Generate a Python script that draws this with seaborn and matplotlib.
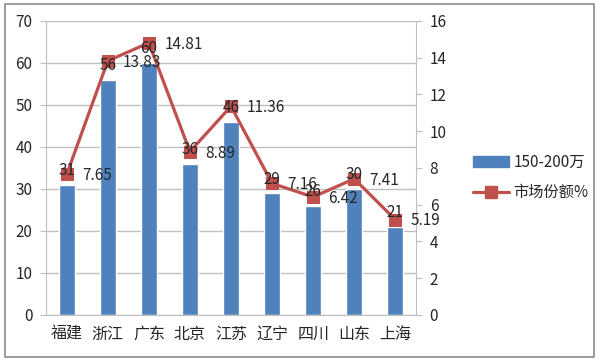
import seaborn as sns
import matplotlib.pyplot as plt
import pandas as pd
from matplotlib.patches import Rectangle
from matplotlib.lines import Line2D
from matplotlib.patches import Patch

regions = ["福建", "浙江", "广东", "北京", "江苏", "辽宁", "四川", "山东", "上海"]
counts = [31, 56, 60, 36, 46, 29, 26, 30, 21]
share = [7.65, 13.83, 14.81, 8.89, 11.36, 7.16, 6.42, 7.41, 5.19]
left_ticks = [0, 10, 20, 30, 40, 50, 60, 70]
right_ticks = [0, 2, 4, 6, 8, 10, 12, 14, 16]

sns.set_style("white")
plt.rcParams['font.family'] = ['Noto Sans CJK SC', 'DejaVu Sans']

BLUE = "#4F81BD"
RED = "#C0504D"
GRID = "#BFBFBF"
TXT = "#262626"

df = pd.DataFrame({"region": regions, "count": counts, "share": share})

fig = plt.figure(figsize=(6, 3.62), dpi=100)
ax = fig.add_axes([0.077, 0.130, 0.616, 0.812])

sns.barplot(data=df, x="region", y="count", color=BLUE, width=0.4,
            saturation=1, ax=ax, zorder=2)
ax.set_ylim(0, 70)
ax.set_yticks(left_ticks)
ax.set_xlim(-0.5, len(regions) - 0.5)
ax.set_xlabel("")
ax.set_ylabel("")
ax.yaxis.grid(True, color=GRID, linewidth=1)
ax.set_axisbelow(True)
for s in ["top", "right"]:
    ax.spines[s].set_visible(False)
for s in ["left", "bottom"]:
    ax.spines[s].set_color(GRID)
ax.tick_params(axis="y", length=4, color=GRID, labelsize=11, labelcolor=TXT, pad=6)
ax.tick_params(axis="x", length=0, labelsize=11.5, labelcolor=TXT, pad=8)
# tick marks between categories
ax.set_xticks([i + 0.5 for i in range(len(regions) - 1)], minor=True)
ax.tick_params(axis="x", which="minor", length=4, color=GRID, direction="out")

ax2 = ax.twinx()
ax2.set_position(ax.get_position())
sns.lineplot(x=list(range(len(regions))), y=share, ax=ax2, color=RED,
             linewidth=2.3, marker="s", markersize=8, markeredgecolor=RED,
             markerfacecolor=RED, zorder=4)
ax2.set_ylim(0, 16)
ax2.set_yticks(right_ticks)
ax2.set_ylabel("")
for s in ["top", "left", "bottom"]:
    ax2.spines[s].set_visible(False)
ax2.spines["right"].set_color(GRID)
ax2.tick_params(axis="y", length=4, color=GRID, labelsize=11, labelcolor=TXT, pad=6)

# bar value labels drawn on the twin axes so they sit above the line markers
for i, v in enumerate(counts):
    ax2.annotate(str(v), (i, v), xycoords=ax.transData, xytext=(0, 4),
                 textcoords="offset points", ha="center", va="bottom",
                 fontsize=11, color=TXT, zorder=6)

for i, v in enumerate(share):
    ax2.annotate(f"{v:.2f}", (i, v), xytext=(11, -1), textcoords="offset points",
                 ha="left", va="center", fontsize=11, color=TXT, zorder=6)

handles = [Patch(facecolor=BLUE, edgecolor=BLUE),
           Line2D([0], [0], color=RED, linewidth=2.3, marker="s",
                  markersize=8, markerfacecolor=RED)]
fig.legend(handles, ["150-200万", "市场份额%"], loc="center left",
           bbox_to_anchor=(0.765, 0.51), frameon=False, fontsize=11,
           handlelength=2.4, labelspacing=0.9, handletextpad=0.25,
           labelcolor=TXT)

fig.patches.append(Rectangle((0.008, 0.014), 0.982, 0.975, transform=fig.transFigure,
                             fill=False, edgecolor="#8C8C8C", linewidth=1.2))

fig.savefig("out.png", dpi=100)
